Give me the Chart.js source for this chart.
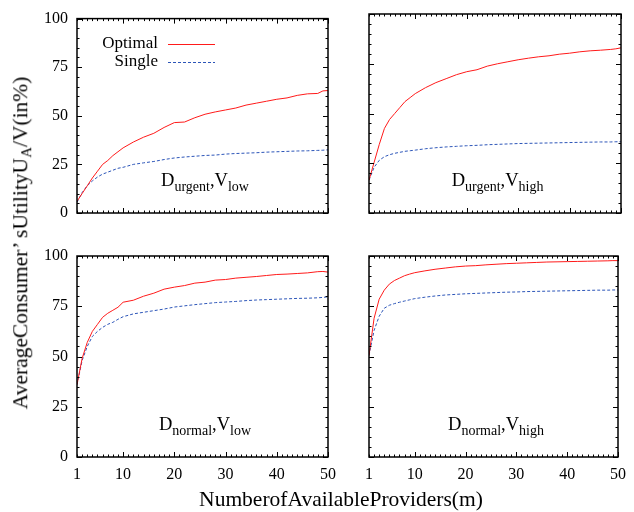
<!DOCTYPE html>
<html>
<head>
<meta charset="utf-8">
<script src="https://cdn.jsdelivr.net/npm/chart.js@4.4.1/dist/chart.umd.min.js"></script>
<style>
  html, body { margin: 0; padding: 0; background: #fff; }
  #wrap { position: relative; width: 634px; height: 512px; overflow: hidden; }
  #wrap canvas { position: absolute; left: 0; top: 0; }
  .axtitle { position: absolute; font-family: 'Liberation Serif', 'Times New Roman', serif; font-size: 21.5px; color: #000; white-space: nowrap; line-height: 1; }
  .axtitle sub { font-size: 15px; vertical-align: -4px; line-height: 0; }
  #ytitle { left: 21px; top: 243px; transform: translate(-50%, -50%) rotate(-90deg); }
  #xtitle { left: 341px; top: 500px; transform: translate(-50%, -50%); }
</style>
</head>
<body>
<div id="wrap">
  <canvas id="c0" width="634" height="512"></canvas>
  <canvas id="c1" width="634" height="512"></canvas>
  <canvas id="c2" width="634" height="512"></canvas>
  <canvas id="c3" width="634" height="512"></canvas>
  <div class="axtitle" id="ytitle">AverageConsumer’ sUtilityU<sub>A</sub>/V(in%)</div>
  <div class="axtitle" id="xtitle">NumberofAvailableProviders(m)</div>
</div>
<script>
// number of available providers (x values)
var providers = [1,2,3,4,5,6,7,8,9,10,12,14,16,18,20,22,24,26,28,30,32,34,36,38,40,42,44,46,48,49,50];

// D_urgent, V_low
var optUrgentLow = [6,10,14,18,21.5,25,27,29.5,31.5,33.5,36.5,39,41,44,46.5,46.8,49,50.8,52,53,54,55.5,56.5,57.5,58.5,59.2,60.5,61.3,61.5,62.8,63];
var sglUrgentLow = [5.5,10.5,14,16.5,18.5,20,21,22,23,23.5,25,25.8,26.5,27.5,28.3,28.8,29.2,29.6,29.8,30.3,30.6,30.8,31,31.3,31.5,31.7,31.9,32,32.2,32.3,32.5];
// D_urgent, V_high
var optUrgentHigh = [16.5,25.5,34.5,42.5,47,50,53,56,58,60,63,65.5,67.5,69.5,71,72,73.8,75,76,77,77.8,78.5,79,79.8,80.3,81,81.5,81.8,82.2,82.5,83];
var sglUrgentHigh = [16.5,23,26.5,28.3,29.3,30,30.5,31,31.3,31.6,32.3,32.8,33.2,33.5,33.8,34,34.3,34.5,34.7,34.9,35,35.1,35.2,35.3,35.4,35.5,35.6,35.7,35.7,35.8,35.8];
// D_normal, V_low
var optNormalLow = [36,49,57,62.5,66,69.5,71.5,73,74.5,77,78,80,81.5,83.5,84.5,85.3,86.5,87,88,88.3,89,89.4,89.8,90.3,90.8,91,91.3,91.6,92.2,92.3,92];
var sglNormalLow = [36,48,55,60,62.5,64.5,66,67,68.5,69.8,71.2,72,72.8,73.6,74.6,75.2,75.8,76.3,76.8,77.1,77.4,77.8,78.1,78.3,78.5,78.7,78.9,79,79.2,79.4,79.7];
// D_normal, V_high
var optNormalHigh = [50.5,69,78.5,83,86,87.8,89,90.2,91,91.7,92.6,93.4,94,94.6,95,95.2,95.6,95.9,96.2,96.4,96.6,96.8,97,97.1,97.2,97.3,97.4,97.5,97.6,97.7,97.7];
var sglNormalHigh = [50.5,63,70,74,75.5,76.3,77,77.6,78.2,78.8,79.5,80.1,80.6,80.9,81.2,81.4,81.6,81.8,82,82.1,82.3,82.4,82.5,82.6,82.7,82.8,82.9,83,83,83.1,83.1];

var seriesNames = ['Optimal', 'Single'];
var xTicks = [1, 10, 20, 30, 40, 50];
var yTicks = [0, 25, 50, 75, 100];

var FONT = "'Liberation Serif', 'Times New Roman', serif";
var RED = '#ff1a1a';
var BLUE = '#2c55b8';

// layout of the four panels: plot area [left, top, right, bottom] in px
var panels = [
  { canvas: 'c0', d: 'urgent', v: 'low',  opt: optUrgentLow,  sgl: sglUrgentLow,  box: [77, 14, 328, 213],  yLab: true,  xLab: false, legend: true },
  { canvas: 'c1', d: 'urgent', v: 'high', opt: optUrgentHigh, sgl: sglUrgentHigh, box: [369, 14, 621, 213], yLab: false, xLab: false, legend: false },
  { canvas: 'c2', d: 'normal', v: 'low',  opt: optNormalLow,  sgl: sglNormalLow,  box: [77, 256, 328, 457], yLab: true,  xLab: true,  legend: false },
  { canvas: 'c3', d: 'normal', v: 'high', opt: optNormalHigh, sgl: sglNormalHigh, box: [369, 256, 621, 457], yLab: false, xLab: true,  legend: false }
];

function toPoints(ys) {
  return providers.map(function(m, i) { return { x: m, y: ys[i] }; });
}

// text with subscripts, centred on cx
function drawRich(ctx, parts, cx, base) {
  var big = '18.5px ' + FONT, small = '14px ' + FONT;
  var w = 0;
  parts.forEach(function(p) {
    ctx.font = p[1] ? small : big;
    w += ctx.measureText(p[0]).width;
  });
  var x = cx - w / 2;
  ctx.textAlign = 'left';
  ctx.textBaseline = 'alphabetic';
  parts.forEach(function(p) {
    ctx.font = p[1] ? small : big;
    ctx.fillText(p[0], x, p[1] ? base + 5 : base);
    x += ctx.measureText(p[0]).width;
  });
}

// frame with inward ticks on all four sides, panel label, legend
var framePlugin = {
  id: 'paperFrame',
  afterDatasetsDraw: function(chart, args, opts) {
    var a = chart.chartArea, sx = chart.scales.x, sy = chart.scales.y, ctx = chart.ctx;
    ctx.save();
    ctx.strokeStyle = '#000';
    ctx.lineWidth = 1;
    ctx.beginPath();
    for (var m = 1; m <= 50; m++) {
      var px = Math.round(sx.getPixelForValue(m)) + 0.5;
      var len = (m % 10 === 0) ? 5 : 2.5;
      ctx.moveTo(px, a.bottom); ctx.lineTo(px, a.bottom - len);
      ctx.moveTo(px, a.top); ctx.lineTo(px, a.top + len);
    }
    for (var v = 0; v <= 100; v += 5) {
      var py = Math.round(sy.getPixelForValue(v)) + 0.5;
      var l2 = (v % 25 === 0) ? 5 : 2.5;
      ctx.moveTo(a.left, py); ctx.lineTo(a.left + l2, py);
      ctx.moveTo(a.right, py); ctx.lineTo(a.right - l2, py);
    }
    ctx.stroke();
    ctx.lineWidth = 1.5;
    ctx.strokeRect(a.left, a.top, a.right - a.left, a.bottom - a.top);

    ctx.fillStyle = '#000';
    drawRich(ctx, [['D', 0], [opts.d, 1], [',', 0], ['V', 0], [opts.v, 1]],
      a.left + (a.right - a.left) * 0.51, a.bottom - 27);

    if (opts.legend) {
      ctx.font = '17px ' + FONT;
      ctx.textAlign = 'right';
      ctx.textBaseline = 'middle';
      chart.data.datasets.forEach(function(ds, i) {
        var y = a.top + 25 + i * 18;
        ctx.fillStyle = '#000';
        ctx.fillText(ds.label, a.left + 81, y);
        ctx.strokeStyle = ds.borderColor;
        ctx.lineWidth = 1;
        ctx.setLineDash(ds.borderDash || []);
        ctx.beginPath();
        ctx.moveTo(a.left + 91, Math.round(y) + 0.5);
        ctx.lineTo(a.left + 138, Math.round(y) + 0.5);
        ctx.stroke();
      });
      ctx.setLineDash([]);
    }
    ctx.restore();
  }
};

panels.forEach(function(p) {
  var b = p.box;
  new Chart(document.getElementById(p.canvas), {
    type: 'line',
    data: {
      datasets: [
        { label: seriesNames[0], data: toPoints(p.opt), borderColor: RED, borderWidth: 1, pointRadius: 0, tension: 0, fill: false },
        { label: seriesNames[1], data: toPoints(p.sgl), borderColor: BLUE, borderWidth: 1, borderDash: [3, 2], pointRadius: 0, tension: 0, fill: false }
      ]
    },
    options: {
      responsive: false,
      animation: false,
      events: [],
      layout: { padding: { left: b[0] - 50, top: b[1], right: 634 - b[2], bottom: 512 - b[3] - 30 } },
      plugins: {
        legend: { display: false },
        tooltip: { enabled: false },
        paperFrame: { d: p.d, v: p.v, legend: p.legend }
      },
      scales: {
        x: {
          type: 'linear', min: 1, max: 50,
          afterBuildTicks: function(s) { s.ticks = xTicks.map(function(v) { return { value: v }; }); },
          afterFit: function(s) { s.height = 30; },
          grid: { display: false, drawTicks: false },
          border: { display: false },
          ticks: { display: p.xLab, padding: 8, color: '#000', autoSkip: false, maxRotation: 0, font: { family: FONT, size: 16 } }
        },
        y: {
          type: 'linear', min: 0, max: 100,
          afterBuildTicks: function(s) { s.ticks = yTicks.map(function(v) { return { value: v }; }); },
          afterFit: function(s) { s.width = 50; },
          grid: { display: false, drawTicks: false },
          border: { display: false },
          ticks: { display: p.yLab, padding: 9, color: '#000', font: { family: FONT, size: 16 } }
        }
      }
    },
    plugins: [framePlugin]
  });
});
</script>
</body>
</html>
